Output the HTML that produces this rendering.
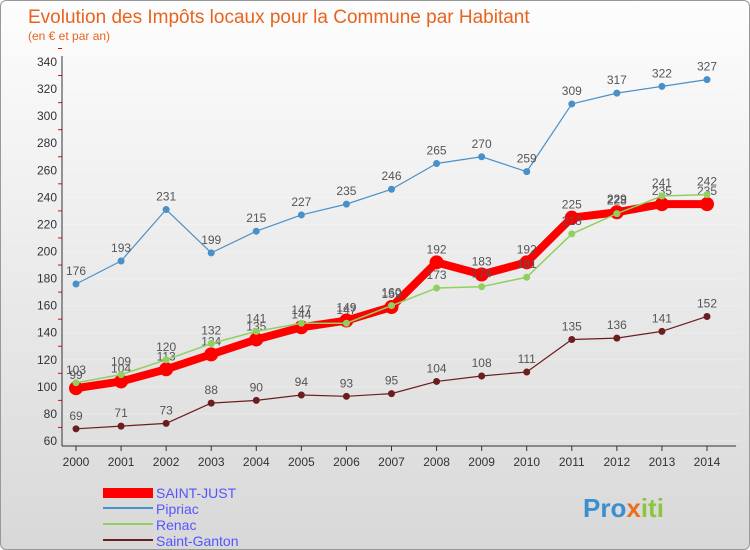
<!DOCTYPE html>
<html><head><meta charset="utf-8"><style>
body{margin:0;width:750px;height:550px;overflow:hidden;font-family:"Liberation Sans",sans-serif}
#wrap{position:absolute;left:0;top:0;width:748px;height:548px;border:1px solid #999;border-radius:6px;background:linear-gradient(#fdfdfd,#d8d8d8);overflow:hidden}
svg{position:absolute;left:0;top:0}
</style></head><body>
<div id="wrap">
<svg id="chart" width="750" height="550">
<text x="27" y="22" font-size="19" fill="#e8641e">Evolution des Impôts locaux pour la Commune par Habitant</text>
<text x="27" y="39" font-size="12" fill="#e8641e">(en € et par an)</text>
<g id="axes"></g><g id="series"></g>
<g>
<rect x="102" y="487" width="50" height="10" fill="#f00"/>
<text x="155" y="497" font-size="14" fill="#5555ff">SAINT-JUST</text>
<rect x="102" y="506" width="50" height="2" fill="#4a90c8"/>
<text x="155" y="513" font-size="14" fill="#5555ff">Pipriac</text>
<rect x="102" y="522" width="50" height="2" fill="#8fd060"/>
<text x="155" y="529" font-size="14" fill="#5555ff">Renac</text>
<rect x="102" y="538" width="50" height="2" fill="#6b1e1e"/>
<text x="155" y="545" font-size="14" fill="#5555ff">Saint-Ganton</text>
</g>
<text x="582" y="516" font-size="26" font-weight="bold" fill="#3a8fd0">Pro<tspan fill="#e87020">x</tspan><tspan fill="#8cc63f">iti</tspan></text>
</svg></div>
<script>
const years=[2000,2001,2002,2003,2004,2005,2006,2007,2008,2009,2010,2011,2012,2013,2014];
const yTicks=[60,80,100,120,140,160,180,200,220,240,260,280,300,320,340];
const pipriac=[176,193,231,199,215,227,235,246,265,270,259,309,317,322,327];
const renac=[103,109,120,132,141,147,147,160,173,174,181,213,228,241,242];
const saintGanton=[69,71,73,88,90,94,93,95,104,108,111,135,136,141,152];
const saintJust=[99,104,113,124,135,144,149,159,192,183,192,225,229,235,235];
const NS="http://www.w3.org/2000/svg";
const xs=i=>75+i*(706-75)/(years.length-1);
const ys=v=>440-(v-60)*(440-61)/280;
function mk(t,a,p){const e=document.createElementNS(NS,t);for(const k in a)e.setAttribute(k,a[k]);p.appendChild(e);return e;}
const ax=document.getElementById('axes'),se=document.getElementById('series');
yTicks.forEach(v=>{
 const l=mk('line',{x1:60,x2:740,y1:ys(v),y2:ys(v),stroke:'#fff','stroke-width':1,opacity:0.25},ax);
 
 
 const t=mk('text',{x:56,y:ys(v)+4,'font-size':12,'text-anchor':'end',fill:'#333'},ax);t.textContent=v;
 
 
 const m=mk('line',{x1:57,x2:61,y1:ys(v+10),y2:ys(v+10),stroke:'#f00'},ax);
 
 
});
const ya=mk('line',{x1:61,x2:61,y1:55,y2:445,stroke:'#333'},ax);


const xa=mk('line',{x1:61,x2:735,y1:445,y2:445,stroke:'#333'},ax);


years.forEach((y,i)=>{
 const t=mk('text',{x:xs(i),y:465,'font-size':12,'text-anchor':'middle',fill:'#333'},ax);t.textContent=y;
 
 
 mk('line',{x1:xs(i),x2:xs(i),y1:445,y2:450,stroke:'#333'},ax);
});
function series(name,data,color,w,r,lab){
 const g=mk('g',{},se);
 
 
 const pl=mk('polyline',{points:data.map((v,i)=>xs(i)+','+ys(v)).join(' '),fill:'none',stroke:color,'stroke-width':w,'stroke-linejoin':'round'},g);
 
 
 data.forEach((v,i)=>{
  const c=mk('circle',{cx:xs(i),cy:ys(v),r:r,fill:color},g);
  
  
  if(lab){const t=mk('text',{x:xs(i),y:ys(v)-9,'font-size':12,'text-anchor':'middle',fill:'#555'},g);t.textContent=v;
  
  }
 });
}
series('pipriac',pipriac,'#4a90c8',1.2,3.5,true);
series('saint-ganton',saintGanton,'#6b1e1e',1.2,3.5,true);
series('saint-just',saintJust,'#f00',8,7,true);
series('renac',renac,'#8fd060',1.5,3.5,true);
</script>
</body></html>
